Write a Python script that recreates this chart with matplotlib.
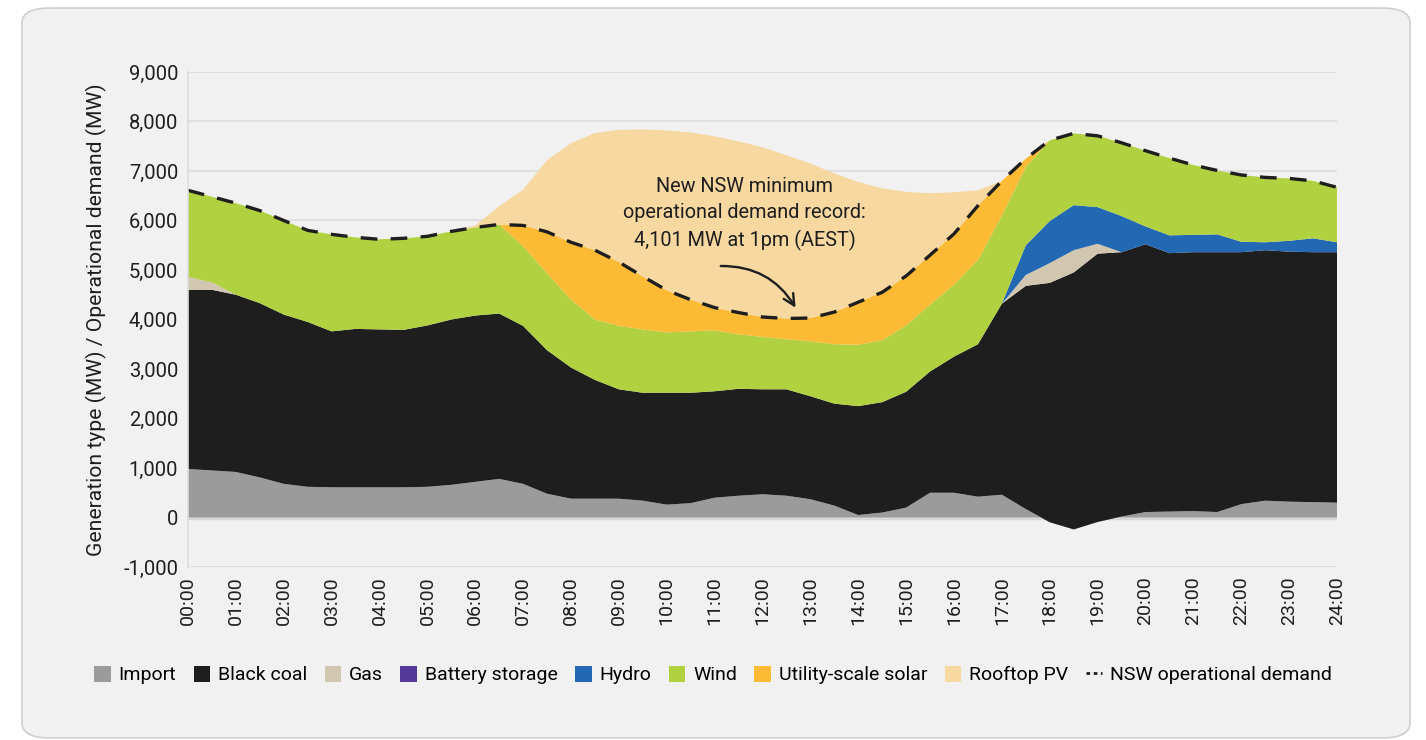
import matplotlib.pyplot as plt
from matplotlib.lines import Line2D
from matplotlib.patches import FancyBboxPatch

plt.rcParams['font.family'] = ['Roboto', 'DejaVu Sans']

# half-hourly, 00:00 .. 24:00 (MW)
hours = [i / 2 for i in range(49)]
import_mw = [980, 950, 920, 810, 680, 620, 610, 610, 610, 610, 620, 660, 720, 780, 680, 480,
             380, 380, 380, 340, 260, 290, 400, 440, 470, 440, 370, 240, 50, 100, 200, 500,
             500, 420, 460, 170, -95, -240, -90, 20, 110, 120, 130, 110, 270, 340, 320, 310, 300]
black_coal = [3620, 3650, 3580, 3520, 3420, 3330, 3150, 3200, 3190, 3180, 3260, 3340, 3360, 3340,
              3190, 2900, 2650, 2400, 2210, 2180, 2260, 2230, 2150, 2160, 2120, 2150, 2080, 2060,
              2200, 2230, 2340, 2450, 2750, 3080, 3860, 4510, 4835, 5190, 5420, 5340, 5410, 5220,
              5230, 5250, 5090, 5060, 5050, 5050, 5060]
gas = [260, 150] + [0] * 33 + [220, 400, 450, 200] + [0] * 10
battery = [0] * 49
hydro = [0] * 35 + [600, 850, 910, 740, 730, 360, 360, 350, 360, 210, 160, 220, 280, 200]
wind = [1750, 1730, 1850, 1870, 1900, 1850, 1960, 1850, 1820, 1850, 1800, 1780, 1780, 1800,
        1610, 1550, 1370, 1220, 1280, 1280, 1220, 1240, 1230, 1100, 1060, 1010, 1110, 1200,
        1240, 1250, 1340, 1350, 1450, 1700, 1780, 1580, 1630, 1450, 1440, 1480, 1530, 1560,
        1410, 1290, 1350, 1310, 1260, 1160, 1110]
utility_solar = [0] * 14 + [420, 840, 1160, 1400, 1290, 1070, 850, 640, 460, 440, 400, 420, 470,
                            650, 860, 970, 1000, 1000, 1030, 1100, 700, 170] + [0] * 13
rooftop_pv = [0] * 12 + [40, 370, 720, 1450, 2000, 2370, 2670, 2970, 3230, 3380, 3460, 3460,
                         3430, 3300, 3120, 2800, 2430, 2100, 1700, 1250, 840, 310] + [0] * 15
demand = [6610, 6480, 6350, 6200, 6000, 5800, 5720, 5660, 5620, 5640, 5680, 5780, 5860, 5920,
          5900, 5770, 5560, 5400, 5160, 4870, 4590, 4400, 4240, 4140, 4050, 4020, 4030, 4150,
          4350, 4550, 4880, 5300, 5730, 6300, 6800, 7250, 7620, 7760, 7710, 7570, 7410, 7260,
          7120, 7010, 6920, 6870, 6850, 6800, 6670]

labels = ['Import', 'Black coal', 'Gas', 'Battery storage', 'Hydro', 'Wind',
          'Utility-scale solar', 'Rooftop PV']
colors = ['#9b9b9b', '#1e1e1e', '#d1c7b0', '#55399a', '#2268b2', '#b1d141', '#fdbb35', '#f6d8a0']
yticks = list(range(-1000, 10000, 1000))
xticklabels = ['%02d:00' % h for h in range(25)]

fig = plt.figure(figsize=(14.26, 7.4), dpi=100)
fig.patch.set_facecolor('white')
panel = FancyBboxPatch((22 / 1426, 1 - 738 / 740), (1410 - 22) / 1426, (738 - 8) / 740,
                       boxstyle='round,pad=0,rounding_size=0.02', transform=fig.transFigure,
                       facecolor='#f1f1f1', edgecolor='#cfcfcf', linewidth=1.2, zorder=-5)
fig.patches.append(panel)

ax = fig.add_axes([188 / 1426, 1 - 567 / 740, (1337 - 188) / 1426, (567 - 72) / 740])
ax.set_facecolor('#f1f1f1')

polys = ax.stackplot(hours, import_mw, black_coal, gas, battery, hydro, wind, utility_solar,
                     rooftop_pv, colors=colors, labels=labels, linewidth=0)
ax.plot(hours, demand, color='#1e1e1e', linestyle=(0, (5, 4)), linewidth=2.4)

ax.set_xlim(0, 24)
ax.set_ylim(-1000, 9000)
ax.set_yticks(yticks)
ax.set_yticklabels(['{:,}'.format(v) for v in yticks], fontsize=14.5, color='#1e1e1e')
ax.set_xticks(range(25))
ax.set_xticklabels(xticklabels, rotation=90, fontsize=14, color='#1e1e1e')
ax.tick_params(length=0, pad=7)
ax.grid(axis='y', color='#dcdcdc', linewidth=1.2)
ax.set_axisbelow(True)
ax.axhline(0, color='#d6d6d6', linewidth=2.5, zorder=0.5)
for s in ('top', 'right', 'bottom'):
    ax.spines[s].set_visible(False)
ax.spines['left'].set_color('#dcdcdc')
ax.spines['left'].set_linewidth(1.2)
ax.set_ylabel('Generation type (MW) / Operational demand (MW)', fontsize=15.2, color='#1e1e1e',
              labelpad=12)

ax.text(11.63, 6130, 'New NSW minimum\noperational demand record:\n4,101 MW at 1pm (AEST)',
        ha='center', va='center', fontsize=14.3, color='#1e1e1e', linespacing=1.45)
ax.annotate('', xy=(12.72, 4190), xytext=(11.07, 5080),
            arrowprops=dict(arrowstyle='->', color='#1e1e1e', lw=1.7, mutation_scale=20,
                            connectionstyle='arc3,rad=-0.3'))

demand_handle = Line2D([], [], color='#1e1e1e', linestyle=(0, (1.3, 1.3)), linewidth=2)
fig.legend(list(polys) + [demand_handle], labels + ['NSW operational demand'], loc='center',
           bbox_to_anchor=(0.5, 1 - 675 / 740), ncol=9, frameon=False, fontsize=14,
           handlelength=0.85, handleheight=0.9, handletextpad=0.4, columnspacing=0.9)

fig.savefig('out.png', dpi=100, facecolor='white')
